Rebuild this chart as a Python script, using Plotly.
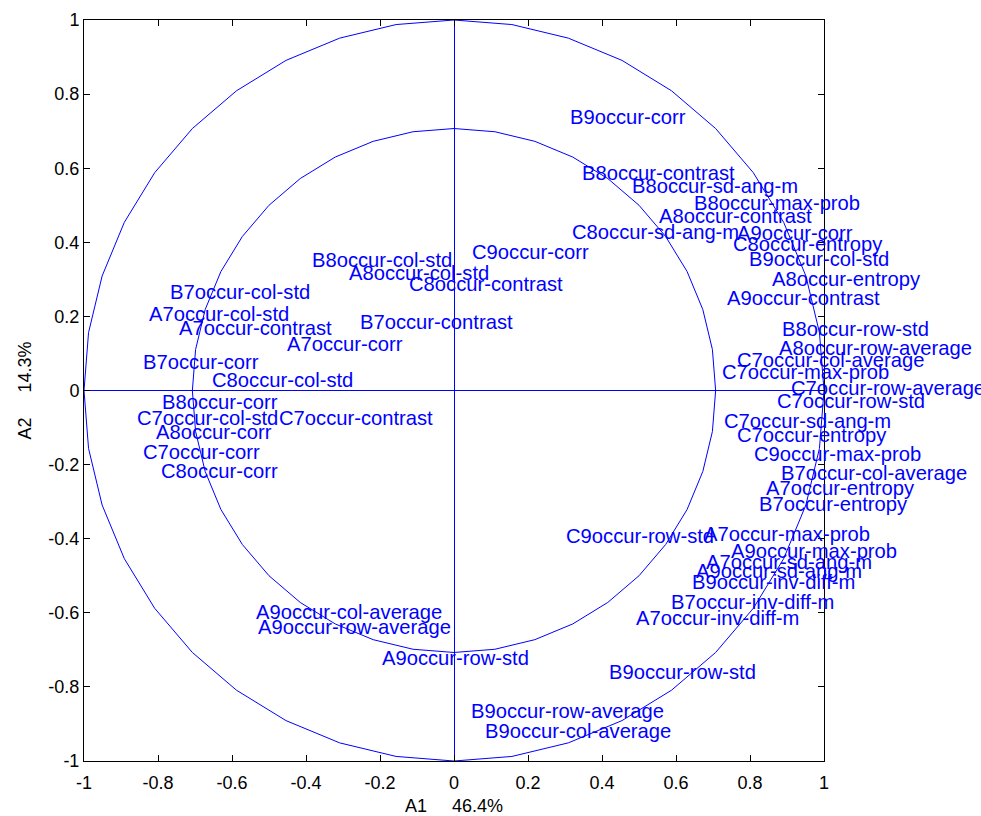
import numpy as np
import plotly.graph_objects as go

# variable labels and their positions on the correlation circle
labels = [
    "B9occur-corr", "B8occur-contrast", "B8occur-sd-ang-m", "B8occur-max-prob",
    "A8occur-contrast", "C8occur-sd-ang-m", "A9occur-corr", "C8occur-entropy",
    "B9occur-col-std", "A8occur-entropy", "A9occur-contrast", "B8occur-row-std",
    "A8occur-row-average", "C7occur-col-average", "C7occur-max-prob",
    "C7occur-row-average", "C7occur-row-std", "C7occur-sd-ang-m", "C7occur-entropy",
    "C9occur-max-prob", "B7occur-col-average", "A7occur-entropy", "B7occur-entropy",
    "C9occur-row-std", "A7occur-max-prob", "A9occur-max-prob", "A7occur-sd-ang-m",
    "A9occur-sd-ang-m", "B9occur-inv-diff-m", "B7occur-inv-diff-m",
    "A7occur-inv-diff-m", "B9occur-row-std", "B9occur-row-average",
    "B9occur-col-average", "B8occur-col-std", "A8occur-col-std", "C8occur-contrast",
    "C9occur-corr", "B7occur-col-std", "A7occur-col-std", "A7occur-contrast",
    "B7occur-contrast", "A7occur-corr", "B7occur-corr", "C8occur-col-std",
    "B8occur-corr", "C7occur-col-std", "C7occur-contrast", "A8occur-corr",
    "C7occur-corr", "C8occur-corr", "A9occur-col-average", "A9occur-row-average",
    "A9occur-row-std",
]
a1 = [
    0.315, 0.349, 0.485, 0.651, 0.557, 0.322, 0.768, 0.758, 0.800, 0.863, 0.741,
    0.890, 0.881, 0.767, 0.728, 0.913, 0.877, 0.732, 0.767, 0.814, 0.886, 0.845,
    0.827, 0.306, 0.678, 0.751, 0.683, 0.656, 0.647, 0.588, 0.494, 0.422, 0.049,
    0.086, -0.382, -0.281, -0.119, 0.051, -0.766, -0.822, -0.741, -0.251, -0.450,
    -0.838, -0.652, -0.786, -0.853, -0.470, -0.804, -0.838, -0.790, -0.532,
    -0.526, -0.191,
]
a2 = [
    0.737, 0.587, 0.553, 0.506, 0.472, 0.427, 0.425, 0.395, 0.354, 0.301, 0.251,
    0.167, 0.116, 0.081, 0.049, 0.008, -0.029, -0.082, -0.121, -0.172, -0.224,
    -0.262, -0.307, -0.393, -0.388, -0.433, -0.464, -0.486, -0.518, -0.570,
    -0.613, -0.761, -0.866, -0.918, 0.352, 0.318, 0.287, 0.375, 0.265, 0.206,
    0.170, 0.184, 0.125, 0.076, 0.028, -0.032, -0.075, -0.075, -0.113, -0.165,
    -0.216, -0.599, -0.638, -0.723,
]

tick_vals = [-1, -0.8, -0.6, -0.4, -0.2, 0, 0.2, 0.4, 0.6, 0.8, 1]
tick_text = ["-1", "-0.8", "-0.6", "-0.4", "-0.2", "0", "0.2", "0.4", "0.6", "0.8", "1"]

radii = [1.0, np.sqrt(0.5)]
theta = np.linspace(0, 2 * np.pi, 41)

fig = go.Figure()
for r in radii:
    fig.add_trace(go.Scatter(x=r * np.cos(theta), y=r * np.sin(theta), mode="lines",
                             line=dict(color="#0000ff", width=1), hoverinfo="skip"))

for txt, x, y in zip(labels, a1, a2):
    fig.add_annotation(x=x, y=y, text=txt, showarrow=False, xanchor="left",
                       yanchor="middle", xshift=-3,
                       font=dict(color="#0000ff", size=20.2,
                                 family="Liberation Sans, Arial"))

axis_common = dict(range=[-1, 1], tickvals=tick_vals, ticktext=tick_text,
                   showgrid=False, zeroline=True, zerolinecolor="#0000ff",
                   zerolinewidth=1, showline=True, mirror="ticks", linecolor="black",
                   linewidth=1, ticks="inside", ticklen=6, tickcolor="black",
                   automargin=False,
                   tickfont=dict(size=18, color="black", family="Liberation Sans, Arial"))

title_font = dict(size=18, color="black", family="Liberation Sans, Arial")
gap = "\u00a0" * 5

fig.update_layout(
    width=981, height=816, showlegend=False,
    plot_bgcolor="white", paper_bgcolor="white",
    margin=dict(l=84, r=157, t=20, b=55),
    xaxis=dict(axis_common, ticklabelstandoff=5,
               title=dict(text="A1" + gap + "46.4%", standoff=17, font=title_font)),
    yaxis=dict(axis_common, ticklabelstandoff=0,
               title=dict(text="A2" + gap + "14.3%", standoff=12, font=title_font)),
)

# drop the default page margin so the figure fills the window exactly
fig.write_html("out.html", config={"displayModeBar": False},
               post_script="document.body.style.margin='0';document.body.style.overflow='hidden';")
